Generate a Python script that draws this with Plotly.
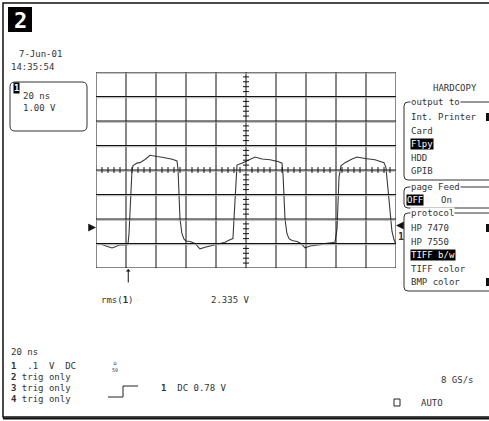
import plotly.graph_objects as go

# ---- data (time in ns, amplitude in divisions) ----
t_ns = [0, 3.3, 6.7, 10.7, 13.3, 16, 18.7, 21.3,
        22, 22.7, 23.3, 24, 24.7, 27.3, 29.3, 32.7, 36, 38, 40.7, 44, 47.3, 49.3, 51.3, 54,
        54.7, 55.3, 56, 57.3, 58.7, 60, 62.7, 66, 69.3, 72.7, 76, 79.3, 82.7, 86, 89.3, 91.3,
        92, 92.7, 93.3, 94, 98, 102.7, 106, 110.7, 116, 121.3, 124,
        124.7, 125.3, 126, 127.3, 128.7, 130.7, 134, 136.7, 139.3, 142.7, 146, 149.3, 152.7, 156, 159.3,
        160.7, 161.3, 162, 163.3, 166, 170.7, 174, 179.3, 186, 192,
        193.3, 194.7, 196, 197.3, 198.7, 200]
v_div = [-3.0, -3.02, -3.1, -3.18, -3.12, -3.05, -3.06, -3.04,
         -2.6, -1.5, -0.5, 0.0, 0.18, 0.28, 0.3, 0.43, 0.6, 0.57, 0.55, 0.52, 0.5, 0.46, 0.43, 0.37,
         0.0, -1.0, -2.0, -2.6, -2.82, -2.9, -2.92, -3.0, -3.22, -3.15, -3.1, -3.05, -3.0, -2.95, -2.85, -2.8,
         -2.0, -1.0, -0.2, 0.2, 0.3, 0.45, 0.53, 0.45, 0.42, 0.35, 0.28,
         -0.2, -1.2, -2.0, -2.6, -2.8, -2.88, -2.92, -3.0, -3.18, -3.1, -3.08, -3.05, -3.0, -2.97, -2.95,
         -2.4, -1.2, -0.3, 0.17, 0.3, 0.45, 0.53, 0.47, 0.42, 0.3,
         0.1, -0.8, -1.8, -2.5, -2.85, -3.04]

x_divs = list(range(0, 201, 20))
y_divs = list(range(-4, 5))
trigger_ns = 21.5
ch_marker_div = -2.35

output_items = ["Int. Printer", "Card", "Flpy", "HDD", "GPIB"]
protocol_items = ["HP 7470", "HP 7550", "TIFF b/w", "TIFF color", "BMP color"]
channel_lines = ["trig only", "trig only", "trig only"]

W, H = 489, 421
FONT = "DejaVu Sans Mono"
INK = "#333333"

def px(x):
    return x / W

def py(y):
    return 1 - y / H

GX0, GX1, GY0, GY1 = 96, 396, 72, 268
DIV_PX = (GY1 - GY0) / 8.0
YC = (GY0 + GY1) / 2.0

fig = go.Figure()
shapes = []
ann = []

# grid
for xv in x_divs:
    shapes.append(dict(type="line", xref="x", yref="y", x0=xv, x1=xv, y0=-4, y1=4,
                       line=dict(color="#111", width=1)))
for yv in y_divs:
    shapes.append(dict(type="line", xref="x", yref="y", x0=0, x1=200, y0=yv - 0.05, y1=yv - 0.05,
                       line=dict(color="#aaaaaa", width=1)))
    shapes.append(dict(type="line", xref="x", yref="y", x0=0, x1=200, y0=yv, y1=yv,
                       line=dict(color="#111", width=1)))
# centre-axis minor ticks
for i in range(50):
    xv = i * 4
    if xv % 20:
        shapes.append(dict(type="line", xref="x", yref="y", x0=xv, x1=xv, y0=-0.12, y1=0.12,
                           line=dict(color="#111", width=1)))
for i in range(-20, 21):
    yv = i * 0.2
    if i % 5:
        shapes.append(dict(type="line", xref="x", yref="y", x0=98, x1=102, y0=yv, y1=yv,
                           line=dict(color="#111", width=1)))

fig.add_trace(go.Scatter(x=t_ns, y=v_div, mode="lines", line=dict(color="#3a3a3a", width=1.1),
                         hoverinfo="skip", showlegend=False))

# outer frame
shapes.append(dict(type="rect", xref="paper", yref="paper", x0=px(3), x1=px(492), y0=py(417), y1=py(3),
                   line=dict(color="#111", width=1.5)))
shapes.append(dict(type="line", xref="paper", yref="paper", x0=px(3), x1=px(489), y0=py(418.5), y1=py(418.5),
                   line=dict(color="#111", width=2)))

def rbox(x0, y0, x1, y1, r=4):
    p = (f"M {px(x0+r)},{py(y0)} L {px(x1-r)},{py(y0)} Q {px(x1)},{py(y0)} {px(x1)},{py(y0+r)} "
         f"L {px(x1)},{py(y1-r)} Q {px(x1)},{py(y1)} {px(x1-r)},{py(y1)} "
         f"L {px(x0+r)},{py(y1)} Q {px(x0)},{py(y1)} {px(x0)},{py(y1-r)} "
         f"L {px(x0)},{py(y0+r)} Q {px(x0)},{py(y0)} {px(x0+r)},{py(y0)} Z")
    shapes.append(dict(type="path", xref="paper", yref="paper", path=p, line=dict(color="#333", width=1)))

def txt(s, x, y, size=9, color=INK, bg=None, anchor="left"):
    d = dict(text=s, x=px(x), y=py(y), xref="paper", yref="paper", showarrow=False,
             xanchor=anchor, yanchor="middle", font=dict(family=FONT, size=size, color=color),
             borderpad=0)
    if bg:
        d["bgcolor"] = bg
    ann.append(d)

def tri(x, y, direction, s=3.5):
    if direction == "right":
        p = f"M {px(x-s)},{py(y-s)} L {px(x+s)},{py(y)} L {px(x-s)},{py(y+s)} Z"
    else:
        p = f"M {px(x+s)},{py(y-s)} L {px(x-s)},{py(y)} L {px(x+s)},{py(y+s)} Z"
    shapes.append(dict(type="path", xref="paper", yref="paper", path=p,
                       fillcolor="#111", line=dict(color="#111", width=0.5)))

# "2" badge
shapes.append(dict(type="rect", xref="paper", yref="paper", x0=px(8), x1=px(32), y0=py(32), y1=py(7),
                   fillcolor="#000", line=dict(width=0)))
txt("<b>2</b>", 20, 20, size=22, color="white", anchor="center")

txt("7-Jun-01", 18, 54)
txt("14:35:54", 10, 67)

rbox(10, 82, 87, 131, r=5)
txt("<b>1</b>", 13, 88, color="white", bg="#000")
txt("20 ns", 22, 96)
txt("1.00 V", 22, 108)

# right panel
txt("HARDCOPY", 432, 88)
rbox(404, 102, 496, 180)
txt("output to", 410, 102, bg="white")
for i, s in enumerate(output_items):
    if s == "Flpy":
        txt(s, 410, 117 + i * 13.5, color="white", bg="#000")
    else:
        txt(s, 410, 117 + i * 13.5)
shapes.append(dict(type="rect", xref="paper", yref="paper", x0=px(486), x1=px(489), y0=py(121), y1=py(113),
                   fillcolor="#111", line=dict(width=0)))
rbox(404, 187, 496, 208)
txt("page Feed", 410, 187, bg="white")
txt("OFF", 406, 200, color="white", bg="#000")
txt("On", 440, 200)
rbox(404, 213, 496, 291)
txt("protocol", 410, 213, bg="white")
for i, s in enumerate(protocol_items):
    if s == "TIFF b/w":
        txt(s, 410, 228 + i * 13.5, color="white", bg="#000")
    else:
        txt(s, 410, 228 + i * 13.5)
shapes.append(dict(type="rect", xref="paper", yref="paper", x0=px(486), x1=px(489), y0=py(232), y1=py(224),
                   fillcolor="#111", line=dict(width=0)))
shapes.append(dict(type="rect", xref="paper", yref="paper", x0=px(486), x1=px(489), y0=py(286), y1=py(278),
                   fillcolor="#111", line=dict(width=0)))

# channel markers
ym = YC - ch_marker_div * DIV_PX
tri(92, ym, "right")
tri(400, ym - 2, "left")
txt("<b>1</b>", 397, ym + 9, size=10)

# trigger arrow
ann.append(dict(x=trigger_ns, y=py(GY1 + 1), xref="x", yref="paper", ax=0, ay=15, text="",
                showarrow=True, arrowhead=1, arrowsize=0.8, arrowwidth=1, arrowcolor="#111"))

txt("rms(<b>1</b>)", 100, 300)
txt("2.335 V", 210, 300)

txt("20 ns", 10, 352)
txt("<b>1</b>  .1  V  DC", 10, 366)
txt("Ω<br>50", 111, 366, size=5)
for i, s in enumerate(channel_lines):
    txt(f"<b>{i+2}</b> {s}", 10, 377 + i * 11)

stp = f"M {px(108)},{py(397)} L {px(123)},{py(397)} L {px(123)},{py(386)} L {px(138)},{py(386)}"
shapes.append(dict(type="path", xref="paper", yref="paper", path=stp, line=dict(color="#222", width=1)))
txt("<b>1</b>  DC 0.78 V", 160, 388)
txt("8 GS/s", 440, 380)
shapes.append(dict(type="rect", xref="paper", yref="paper", x0=px(394), x1=px(400), y0=py(406), y1=py(399),
                   line=dict(color="#222", width=1)))
txt("AUTO", 420, 403)

fig.update_layout(
    width=W, height=H, margin=dict(l=0, r=0, t=0, b=0),
    paper_bgcolor="white", plot_bgcolor="white",
    xaxis=dict(domain=[px(GX0), px(GX1)], range=[0, 200], showgrid=False, zeroline=False,
               showticklabels=False, ticks="", showline=False, fixedrange=True),
    yaxis=dict(domain=[py(GY1), py(GY0)], range=[-4, 4], showgrid=False, zeroline=False,
               showticklabels=False, ticks="", showline=False, fixedrange=True),
    shapes=shapes, annotations=ann, showlegend=False,
)
fig.write_html("out.html", config={"displayModeBar": False},
               post_script="document.body.style.margin='0';document.body.style.overflow='hidden';")
